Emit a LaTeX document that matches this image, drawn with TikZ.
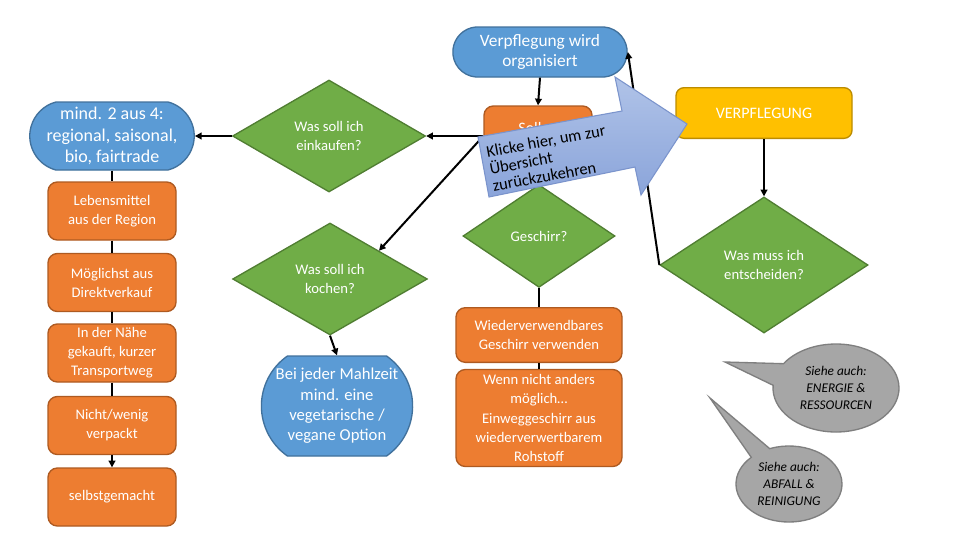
\documentclass[tikz,border=0pt]{standalone}
\usepackage{fontspec}
\setmainfont{Carlito}
\usetikzlibrary{shapes.geometric,shapes.misc,shapes.callouts,arrows.meta}
\definecolor{myblue}{HTML}{5B9BD5}
\definecolor{mybluebd}{HTML}{41719C}
\definecolor{myorange}{HTML}{ED7D31}
\definecolor{myorangebd}{HTML}{AE5A21}
\definecolor{mygreen}{HTML}{70AD47}
\definecolor{mygreenbd}{HTML}{507E32}
\definecolor{mygold}{HTML}{FFC000}
\definecolor{mygoldbd}{HTML}{BC8C00}
\definecolor{calloutgray}{HTML}{A6A6A6}
\definecolor{calloutbd}{HTML}{7F7F7F}
\definecolor{arrowtop}{HTML}{B0C3E8}
\definecolor{arrowbot}{HTML}{8AA4DA}
\definecolor{arrowbd}{HTML}{7B94CC}
\tikzset{
  base/.style={draw, line width=1pt, text=white, align=center, inner sep=1pt},
  bluet/.style={base, rounded rectangle, fill=myblue, draw=mybluebd},
  orangebox/.style={base, rectangle, rounded corners=7pt, fill=myorange, draw=myorangebd, font=\fontsize{11}{14.3}\selectfont},
  greend/.style={base, diamond, fill=mygreen, draw=mygreenbd, font=\fontsize{11}{14.5}\selectfont},
  goldbox/.style={base, rectangle, rounded corners=6pt, fill=mygold, draw=mygoldbd, font=\fontsize{12}{14}\selectfont},
  conn/.style={line width=1.5pt, black},
  arr/.style={conn, -{Triangle[length=5pt,width=5pt]}},
  speech/.style={ellipse callout, fill=calloutgray, draw=calloutbd, line width=1pt, align=center, inner sep=0pt, font=\fontsize{10}{13}\selectfont\itshape},
}
\begin{document}
\begin{tikzpicture}[x=0.75pt,y=-0.75pt]
\useasboundingbox[fill=white] (0,0) rectangle (960,540);

% blue terminators
\node[bluet, rounded rectangle arc length=170, minimum width=132.75pt, minimum height=37.5pt, font=\fontsize{13}{15.5}\selectfont] (vw) at (540,52) {Verpflegung wird\\organisiert};
\node[bluet, rounded rectangle arc length=150, minimum width=121.5pt, minimum height=51pt, font=\fontsize{13.5}{16.3}\selectfont] (mind) at (112,136) {mind. 2 aus 4:\\regional, saisonal,\\bio, fairtrade};
\node[bluet, rounded rectangle arc length=110, minimum width=112.5pt, minimum height=75pt, font=\fontsize{12.5}{15.2}\selectfont] (bei) at (337,406) {Bei jeder Mahlzeit\\mind. eine\\vegetarische /\\vegane Option};

% left column
\node[orangebox, minimum width=96pt, minimum height=43.5pt] (leb) at (112,211) {Lebensmittel\\aus der Region};
\node[orangebox, minimum width=96pt, minimum height=43.5pt] (moeg) at (112,282.5) {Möglichst aus\\Direktverkauf};
\node[orangebox, minimum width=96pt, minimum height=43.5pt] (naehe) at (112,353) {In der Nähe\\gekauft, kurzer\\Transportweg};
\node[orangebox, minimum width=96pt, minimum height=43.5pt] (nicht) at (112,425.5) {Nicht/wenig\\verpackt};
\node[orangebox, minimum width=96pt, minimum height=43.5pt] (selbst) at (112,497) {selbstgemacht};

% diamonds
\node[greend, minimum width=144.75pt, minimum height=84pt] (eink) at (329,136) {Was soll ich\\einkaufen?};
\node[greend, minimum width=146pt, minimum height=84pt] (koch) at (330,279) {Was soll ich\\kochen?};
\node[greend, minimum width=114pt, minimum height=77pt] (gesch) at (539,236) {Geschirr?};
\node[greend, minimum width=156pt, minimum height=102pt] (muss) at (764,265) {Was muss ich\\entscheiden?};

% middle column
\node[orangebox, minimum width=81pt, minimum height=45pt] (soll) at (538,136) {};
\node[text=white, font=\fontsize{12}{14}\selectfont, inner sep=0pt] (solltxt) at (530,128) {Soll};
\node[orangebox, minimum width=124.5pt, minimum height=41pt] (wieder) at (539,335) {Wiederverwendbares\\Geschirr verwenden};
\node[orangebox, minimum width=124.5pt, minimum height=72.75pt] (wenn) at (539,418) {Wenn nicht anders\\möglich…\\Einweggeschirr aus\\wiederverwertbarem\\Rohstoff};

% gold box
\node[goldbox, minimum width=132pt, minimum height=38pt] (verpf) at (764,113) {VERPFLEGUNG};

% connectors
\draw[arr] (vw.south) -- (soll.north);
\draw[arr] (soll.west) -- (eink.east);
\draw[arr] (eink.west) -- (mind.east);
\draw[arr] (soll.west) -- (koch.north east);
\draw[arr] (koch.south) -- (bei.north);
\draw[conn] (mind.south) -- (leb.north);
\draw[conn] (leb.south) -- (moeg.north);
\draw[conn] (moeg.south) -- (naehe.north);
\draw[conn] (naehe.south) -- (nicht.north);
\draw[arr] (nicht.south) -- (selbst.north);
\draw[conn] (soll.south) -- (gesch.north);
\draw[conn] (gesch.south) -- (wieder.north);
\draw[conn] (wieder.south) -- (wenn.north);
\draw[arr] (verpf.south) -- (muss.north);
\draw[arr] (muss.west) -- (vw.east);

% big block arrow
\draw[arrowbd, line width=0.8pt, top color=arrowtop, bottom color=arrowbot]
  (478,137) -- (622,111) -- (615,77) -- (687,124) -- (641,195) -- (635,167) -- (489,197) -- cycle;
\node[rotate=10.5, align=left, text=black, inner sep=0pt, font=\fontsize{12.3}{13}\selectfont] (backtxt) at (549,158) {Klicke hier, um zur\\Übersicht\\zurückzukehren};

% callouts
\node[speech, minimum width=94.5pt, minimum height=66pt, callout pointer arc=30, callout absolute pointer={(725,362)}] (energie) at (836,388) {Siehe auch:\\ENERGIE \&\\RESSOURCEN};
\node[speech, minimum width=79.5pt, minimum height=57pt, callout pointer arc=24, callout absolute pointer={(710,398)}] (abfall) at (789,484) {Siehe auch:\\ABFALL \&\\REINIGUNG};
\end{tikzpicture}
\end{document}
